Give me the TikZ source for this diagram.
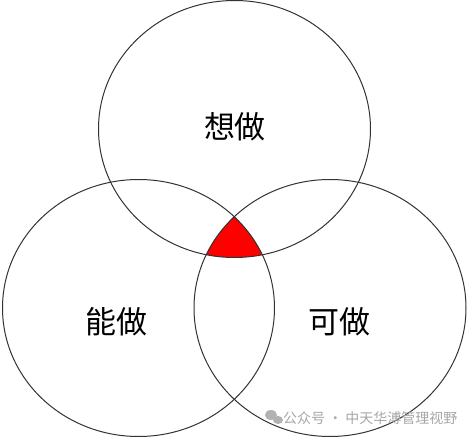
\documentclass[tikz,border=0pt]{standalone}
\usepackage{fontspec}
\newfontfamily\cjk{Noto Sans CJK SC}
\tikzset{
  ring/.style={draw=black!80, line width=1pt},
  lbl/.style={font=\cjk\fontsize{31}{31}\selectfont, text=black, inner sep=0pt},
  wm/.style={font=\cjk\fontsize{14}{14}\selectfont, text=black!35, inner sep=0pt, anchor=west}
}
\begin{document}
\begin{tikzpicture}[x=1pt,y=-1pt]
\useasboundingbox (0,0) rectangle (467,439);
\coordinate (ct) at (234.5,129);
\coordinate (cl) at (138.5,308);
\coordinate (cr) at (330,308);
% red common area
\begin{scope}
  \clip (ct) ellipse [x radius=136, y radius=128.5];
  \clip (cl) ellipse [x radius=136, y radius=128.5];
  \fill[red] (cr) ellipse [x radius=136, y radius=128.5];
\end{scope}
\draw[ring] (ct) ellipse [x radius=136, y radius=128.5];
\draw[ring] (cl) ellipse [x radius=136, y radius=128.5];
\draw[ring] (cr) ellipse [x radius=136, y radius=128.5];
\node[lbl] (want) at (235,127) {想做};
\node[lbl] (can) at (116,322) {能做};
\node[lbl] (may) at (339,322) {可做};
% watermark
\fill[black!30] (271,415) ellipse [x radius=6, y radius=5];
\fill[black!30] (278,420) ellipse [x radius=5, y radius=4];
\node[wm] (mark) at (283,418) {公众号 · 中天华溥管理视野};
\end{tikzpicture}
\end{document}
